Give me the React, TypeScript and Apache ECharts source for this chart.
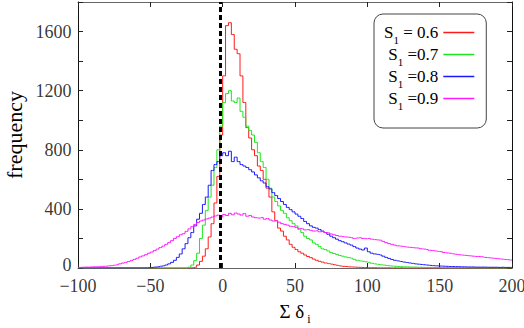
import React, { useEffect, useRef } from "react";
import * as echarts from "echarts";

// Histogram bins: width 2, from -100 to 200 (150 bins)
const binStart = -100;
const binWidth = 2;

const seriesNames = ["S1 = 0.6", "S1 =0.7", "S1 =0.8", "S1 =0.9"];
const seriesColors = ["#ff1a1a", "#1ee61e", "#1a1aff", "#ff1aff"];

// Tick labels
const xTickValues = [-100, -50, 0, 50, 100, 150, 200];
const yTickValues = [0, 400, 800, 1200, 1600];

// S1 = 0.6
const red = [
  0, 0, 0, 0, 0, 0, 0, 0, 0, 0,
  0, 0, 0, 0, 0, 0, 0, 0, 0, 0,
  0, 0, 0, 0, 0, 0, 0, 0, 0, 0,
  0, 0, 0, 0, 0, 0, 0, 0, 0, 2,
  5, 20, 45, 80, 130, 210, 300, 440, 620, 900,
  1300, 1640, 1660, 1580, 1480, 1450, 1300, 1120, 950, 880,
  800, 760, 690, 660, 600, 540, 480, 380, 320, 270,
  250, 215, 190, 160, 140, 125, 110, 100, 88, 78,
  70, 60, 52, 45, 40, 34, 30, 26, 22, 18,
  14, 11, 10, 8, 7, 6, 5, 4, 3, 3,
  2, 2, 2, 1, 1, 1, 1, 1, 0, 1,
  0, 1, 0, 0, 0, 0, 0, 0, 0, 0,
  0, 0, 0, 0, 0, 0, 0, 0, 0, 0,
  0, 0, 0, 0, 0, 0, 0, 0, 0, 0,
  0, 0, 0, 0, 0, 0, 0, 0, 0, 0,
];

// S1 = 0.7
const green = [
  0, 0, 0, 0, 0, 0, 0, 0, 0, 0,
  0, 0, 0, 0, 0, 0, 0, 0, 0, 0,
  0, 0, 0, 0, 0, 0, 0, 0, 0, 0,
  0, 0, 0, 0, 0, 0, 0, 0, 5, 20,
  50, 100, 200, 290, 390, 480, 560, 680, 800, 960,
  1120, 1180, 1200, 1130, 1120, 1150, 1060, 1020, 960, 930,
  900, 850, 780, 720, 680, 600, 540, 480, 450, 420,
  390, 370, 340, 320, 300, 285, 260, 240, 215, 200,
  190, 170, 160, 145, 130, 125, 115, 105, 98, 92,
  85, 80, 75, 70, 66, 58, 52, 48, 45, 42,
  38, 32, 28, 25, 22, 20, 17, 15, 13, 12,
  10, 9, 8, 8, 7, 6, 6, 5, 5, 4,
  4, 4, 3, 3, 3, 3, 2, 3, 2, 2,
  2, 2, 2, 1, 2, 1, 1, 1, 1, 1,
  1, 1, 1, 1, 0, 1, 0, 1, 0, 0,
];

// S1 = 0.8
const blue = [
  0, 0, 0, 0, 0, 0, 0, 0, 0, 0,
  0, 0, 0, 0, 0, 0, 0, 0, 0, 0,
  0, 0, 0, 0, 2, 4, 6, 8, 12, 15,
  20, 28, 38, 52, 72, 95, 130, 165, 205, 240,
  285, 330, 370, 430, 480, 560, 660, 700, 720, 760,
  780, 760, 790, 720, 750, 720, 700, 690, 680, 665,
  650, 630, 610, 590, 575, 550, 535, 510, 490, 470,
  450, 430, 410, 395, 380, 365, 350, 335, 315, 300,
  285, 275, 270, 260, 250, 240, 228, 215, 205, 195,
  185, 178, 170, 162, 155, 145, 135, 128, 122, 135,
  110, 100, 95, 92, 88, 80, 72, 65, 58, 52,
  48, 44, 40, 37, 34, 31, 28, 26, 24, 22,
  20, 18, 16, 15, 14, 13, 12, 11, 10, 10,
  9, 9, 8, 8, 7, 7, 7, 6, 6, 6,
  6, 5, 5, 5, 5, 4, 5, 4, 4, 4,
];

// S1 = 0.9
const magenta = [
  4, 5, 6, 6, 7, 8, 8, 9, 11, 12,
  14, 16, 19, 22, 28, 33, 38, 44, 50, 58,
  66, 75, 82, 90, 100, 108, 118, 128, 138, 148,
  160, 172, 185, 200, 212, 225, 232, 248, 265, 280,
  295, 308, 318, 325, 332, 338, 345, 352, 358, 345,
  362, 355, 370, 360, 372, 365, 358, 368, 350, 355,
  345, 340, 338, 342, 330, 335, 325, 318, 320, 310,
  300, 295, 290, 282, 280, 275, 268, 265, 258, 260,
  255, 250, 252, 245, 248, 240, 238, 230, 225, 220,
  215, 212, 210, 208, 205, 200, 203, 205, 200, 198,
  200, 195, 192, 190, 188, 180, 172, 165, 160, 155,
  150, 148, 145, 142, 140, 138, 136, 135, 130, 128,
  125, 120, 118, 115, 112, 110, 105, 102, 100, 96,
  93, 90, 88, 86, 84, 82, 80, 78, 78, 76,
  72, 70, 68, 66, 64, 62, 60, 58, 56, 54,
];

const seriesValues = [red, green, blue, magenta];

// Reference (dashed) line position on the x axis
const refLineX = -1.5;

const xMin = -100;
const xMax = 200;
const xStep = 50;
const yMin = 0;
const yMax = 1800;
const yStep = 200;

const serif = "Liberation Serif";

function toSteps(values: number[]) {
  const pts: number[][] = [];
  pts.push([binStart, values[0]]);
  values.forEach((v, i) => pts.push([binStart + binWidth * (i + 0.5), v]));
  pts.push([binStart + binWidth * values.length, values[values.length - 1]]);
  return pts;
}

const fmtNum = (v: number) => (v < 0 ? "\u2212" + Math.abs(v) : String(v));

export default function App() {
  const ref = useRef<HTMLDivElement>(null);
  useEffect(() => {
    if (!ref.current) return;
    const chart = echarts.init(ref.current, null, { renderer: "svg" });
    const tickStyle = { inside: true, length: 5, lineStyle: { color: "#222", width: 1 } };
    const labelSeries = (data: any[], position: string, distance: number, idx: number) => ({
      type: "scatter",
      xAxisIndex: 0,
      yAxisIndex: 0,
      silent: true,
      clip: false,
      symbolSize: 1,
      itemStyle: { color: "rgba(0,0,0,0)" },
      data,
      label: {
        show: true,
        position,
        distance,
        fontFamily: serif,
        fontSize: 18,
        color: "#000",
        formatter: (p: any) => fmtNum(p.value[idx]),
      },
      z: 1,
    });
    const yLabelData = yTickValues.map((v) =>
      v === yMin ? { value: [xMin, v], label: { offset: [0, -3] } } : { value: [xMin, v] }
    );
    const option: any = {
      animation: false,
      backgroundColor: "#fff",
      textStyle: { fontFamily: serif, color: "#000" },
      grid: { left: 78, right: 12, top: 2, bottom: 60, containLabel: false, outerBoundsMode: "none" },
      legend: {
        data: seriesNames.map((n) => ({ name: n, icon: "rect" })),
        orient: "vertical",
        left: 374,
        top: 14,
        align: "right",
        itemWidth: 31,
        itemHeight: 1.5,
        itemGap: 1,
        padding: [10, 12, 17, 10],
        backgroundColor: "#fff",
        borderColor: "#444",
        borderWidth: 1,
        borderRadius: 9,
        formatter: (name: string) => `{s|S}{sub|1}{t|${name.slice(2)}}`,
        textStyle: {
          color: "#000",
          fontFamily: serif,
          fontSize: 17,
          rich: {
            s: { fontFamily: serif, fontSize: 17, lineHeight: 25, verticalAlign: "middle", color: "#000" },
            sub: { fontFamily: serif, fontSize: 11, lineHeight: 12, verticalAlign: "bottom", color: "#000" },
            t: { fontFamily: serif, fontSize: 17, lineHeight: 25, verticalAlign: "middle", color: "#000" },
          },
        },
      },
      xAxis: [
        {
          type: "value",
          min: xMin,
          max: xMax,
          interval: xStep,
          position: "bottom",
          axisLine: { show: true, onZero: false, lineStyle: { color: "#666", width: 1 } },
          axisTick: tickStyle,
          splitLine: { show: false },
          axisLabel: { show: false },
          name: "{a|Σ δ}{b|i}",
          nameLocation: "middle",
          nameGap: 29,
          nameTextStyle: {
            fontFamily: serif,
            rich: {
              a: { fontFamily: serif, fontSize: 19, lineHeight: 28, verticalAlign: "middle", color: "#000" },
              b: { fontFamily: serif, fontSize: 12, lineHeight: 12, verticalAlign: "bottom", color: "#000", padding: [0, 0, 0, 3] },
            },
          },
        },
        {
          type: "value",
          min: xMin,
          max: xMax,
          interval: xStep,
          position: "top",
          axisLine: { show: true, onZero: false, lineStyle: { color: "#666", width: 1 } },
          axisTick: tickStyle,
          splitLine: { show: false },
          axisLabel: { show: false },
        },
      ],
      yAxis: [
        {
          type: "value",
          min: yMin,
          max: yMax,
          interval: yStep,
          position: "left",
          axisLine: { show: true, onZero: false, lineStyle: { color: "#111", width: 1 } },
          axisTick: tickStyle,
          splitLine: { show: false },
          axisLabel: { show: false },
          name: "frequency",
          nameLocation: "middle",
          nameGap: 53,
          nameTextStyle: { color: "#000", fontFamily: serif, fontSize: 22 },
        },
        {
          type: "value",
          min: yMin,
          max: yMax,
          interval: yStep,
          position: "right",
          axisLine: { show: true, onZero: false, lineStyle: { color: "#111", width: 1 } },
          axisTick: tickStyle,
          splitLine: { show: false },
          axisLabel: { show: false },
        },
      ],
      series: [
        ...seriesValues.map((vals, i) => ({
          name: seriesNames[i],
          type: "line",
          step: "middle",
          xAxisIndex: 0,
          yAxisIndex: 0,
          symbol: "none",
          showSymbol: false,
          color: seriesColors[i],
          lineStyle: { color: seriesColors[i], width: 1 },
          data: toSteps(vals),
          z: 2 + i,
        })),
        {
          name: "ref",
          type: "line",
          xAxisIndex: 0,
          yAxisIndex: 0,
          symbol: "none",
          showSymbol: false,
          lineStyle: { color: "#000", width: 3, type: [5, 3] },
          data: [
            [refLineX, yMin],
            [refLineX, yMax],
          ],
          z: 10,
        },
        labelSeries(xTickValues.map((v) => [v, yMin]), "bottom", 8, 0),
        labelSeries(yLabelData, "left", 6, 1),
      ],
    };
    chart.setOption(option);
    return () => chart.dispose();
  }, []);
  return (
    <div
      ref={ref}
      style={{ position: "fixed", left: 0, top: 0, width: 524, height: 328, background: "#fff" }}
    />
  );
}
